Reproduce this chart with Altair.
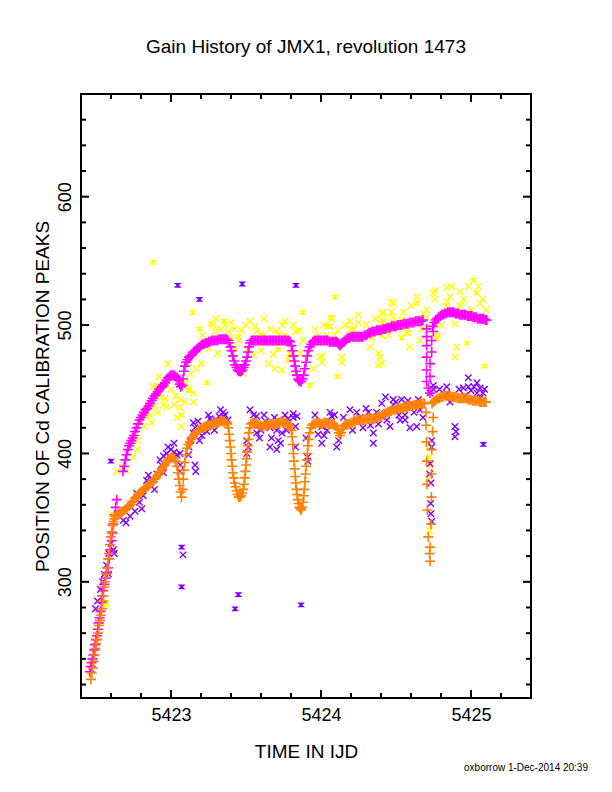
import altair as alt
import pandas as pd

FONT = "Liberation Sans"
TITLE = "Gain History of JMX1, revolution 1473"
X_TITLE = "TIME IN IJD"
Y_TITLE = "POSITION OF Cd CALIBRATION PEAKS"
FOOTER = "oxborrow 1-Dec-2014 20:39"

X_DOMAIN = [5422.4, 5425.4]
Y_DOMAIN = [209.5, 680]
X_LABELS = [5423, 5424, 5425]
Y_LABELS = [300, 400, 500, 600]
X_MINOR = [5422.6, 5422.8, 5423.2, 5423.4, 5423.6, 5423.8,
           5424.2, 5424.4, 5424.6, 5424.8, 5425.2]
Y_MINOR = [220, 240, 260, 280, 320, 340, 360, 380, 420, 440, 460, 480,
           520, 540, 560, 580, 620, 640, 660]

MAGENTA = "#ff00ff"
ORANGE = "#ff8000"
PURPLE = "#8000ff"
YELLOW = "#ffff00"

# lower peak (orange +)
ORANGE_PTS = [
    (5422.466, 224), (5422.472, 229), (5422.478, 233), (5422.484, 238), (5422.490, 243),
    (5422.496, 248), (5422.502, 252), (5422.508, 255), (5422.514, 260), (5422.520, 266),
    (5422.526, 270), (5422.532, 274), (5422.538, 279), (5422.544, 285), (5422.550, 289),
    (5422.556, 296), (5422.562, 300), (5422.568, 306), (5422.574, 311), (5422.580, 318),
    (5422.586, 322), (5422.592, 329), (5422.598, 335), (5422.604, 339), (5422.610, 344),
    (5422.616, 347), (5422.623, 349), (5422.630, 351),
    (5422.640, 352), (5422.650, 353), (5422.660, 353), (5422.670, 354), (5422.680, 355),
    (5422.690, 356), (5422.700, 357), (5422.710, 358), (5422.720, 359), (5422.730, 360),
    (5422.740, 362), (5422.750, 363), (5422.760, 365), (5422.770, 366), (5422.780, 368),
    (5422.790, 369), (5422.800, 370), (5422.810, 371), (5422.820, 372), (5422.830, 373),
    (5422.840, 374), (5422.850, 375), (5422.860, 376), (5422.870, 377), (5422.880, 378),
    (5422.890, 380), (5422.900, 381), (5422.910, 383), (5422.920, 385), (5422.930, 386),
    (5422.940, 388), (5422.950, 390), (5422.960, 391), (5422.970, 393), (5422.980, 395),
    (5422.990, 396), (5423.000, 397), (5423.010, 397), (5423.020, 396), (5423.030, 394),
    (5423.040, 390), (5423.046, 385), (5423.052, 380), (5423.058, 375), (5423.064, 370),
    (5423.070, 366), (5423.078, 372), (5423.082, 380), (5423.086, 387), (5423.092, 393),
    (5423.098, 399),
    (5423.105, 404), (5423.115, 407), (5423.125, 409), (5423.135, 411), (5423.145, 413),
    (5423.155, 415), (5423.165, 416), (5423.175, 417), (5423.185, 418), (5423.195, 419),
    (5423.205, 420), (5423.215, 420), (5423.225, 421), (5423.235, 421), (5423.245, 422),
    (5423.255, 422), (5423.265, 422), (5423.275, 423), (5423.285, 423), (5423.295, 424),
    (5423.305, 424), (5423.315, 424), (5423.325, 425), (5423.335, 425), (5423.345, 425),
    (5423.355, 425), (5423.365, 424), (5423.375, 423),
    (5423.383, 420), (5423.388, 415), (5423.392, 410), (5423.396, 405), (5423.400, 400),
    (5423.404, 395), (5423.408, 390), (5423.413, 385), (5423.418, 381), (5423.423, 377),
    (5423.430, 374), (5423.437, 371), (5423.444, 368), (5423.452, 366), (5423.460, 366),
    (5423.467, 367), (5423.474, 369), (5423.481, 372), (5423.487, 376), (5423.492, 381),
    (5423.496, 386), (5423.500, 391), (5423.504, 396), (5423.508, 401), (5423.512, 406),
    (5423.516, 411), (5423.520, 416), (5423.526, 420), (5423.533, 423),
    (5423.545, 424), (5423.555, 424), (5423.565, 423), (5423.575, 423), (5423.585, 422),
    (5423.595, 422), (5423.605, 421), (5423.615, 421), (5423.625, 422), (5423.635, 422),
    (5423.645, 422), (5423.655, 423), (5423.665, 423), (5423.675, 423), (5423.685, 422),
    (5423.695, 423), (5423.705, 423), (5423.715, 424), (5423.725, 424), (5423.735, 425),
    (5423.745, 424), (5423.755, 424), (5423.765, 424), (5423.775, 423), (5423.785, 422),
    (5423.795, 421),
    (5423.803, 418), (5423.808, 413), (5423.812, 407), (5423.816, 400), (5423.820, 394),
    (5423.824, 388), (5423.828, 382), (5423.832, 377), (5423.836, 372), (5423.840, 368),
    (5423.845, 364), (5423.850, 361), (5423.856, 358), (5423.862, 357), (5423.868, 356),
    (5423.874, 358), (5423.880, 362), (5423.885, 367), (5423.889, 372), (5423.893, 378),
    (5423.897, 384), (5423.901, 390), (5423.905, 395), (5423.909, 400), (5423.913, 406),
    (5423.918, 411), (5423.924, 416), (5423.932, 420), (5423.940, 422),
    (5423.950, 423), (5423.960, 423), (5423.970, 424), (5423.980, 424), (5423.990, 424),
    (5424.000, 423), (5424.010, 423), (5424.020, 424), (5424.030, 424), (5424.040, 424),
    (5424.050, 423), (5424.060, 423), (5424.070, 423), (5424.080, 423), (5424.090, 422),
    (5424.100, 421), (5424.110, 419), (5424.118, 416), (5424.126, 414), (5424.134, 416),
    (5424.142, 419), (5424.150, 421), (5424.160, 422), (5424.170, 423), (5424.180, 423),
    (5424.190, 423), (5424.200, 424), (5424.210, 424), (5424.220, 425), (5424.230, 425),
    (5424.240, 426), (5424.250, 426), (5424.260, 426), (5424.270, 426), (5424.280, 426),
    (5424.290, 426), (5424.300, 427), (5424.310, 427), (5424.320, 427), (5424.330, 427),
    (5424.340, 427), (5424.350, 427), (5424.360, 427), (5424.370, 428), (5424.380, 428),
    (5424.390, 429), (5424.400, 429), (5424.410, 430), (5424.420, 431), (5424.430, 431),
    (5424.440, 432), (5424.450, 432), (5424.460, 433), (5424.470, 433), (5424.480, 434),
    (5424.490, 434), (5424.500, 434), (5424.510, 435), (5424.520, 435), (5424.530, 435),
    (5424.540, 435), (5424.550, 436), (5424.560, 436), (5424.570, 436), (5424.580, 437),
    (5424.590, 437), (5424.600, 437), (5424.610, 437), (5424.620, 438), (5424.630, 438),
    (5424.640, 438), (5424.650, 438), (5424.660, 439), (5424.670, 439), (5424.680, 439),
    (5424.690, 439),
    (5424.700, 432), (5424.748, 428), (5424.700, 422), (5424.744, 417), (5424.703, 409),
    (5424.738, 403), (5424.704, 394), (5424.736, 384), (5424.706, 376), (5424.736, 366),
    (5424.709, 356), (5424.733, 345), (5424.715, 335), (5424.727, 327), (5424.724, 322),
    (5424.727, 316),
    (5424.740, 439), (5424.750, 440), (5424.760, 441), (5424.770, 442), (5424.780, 443),
    (5424.790, 443), (5424.800, 444), (5424.810, 444), (5424.820, 445), (5424.830, 445),
    (5424.840, 445), (5424.850, 445), (5424.860, 445), (5424.870, 444), (5424.880, 444),
    (5424.890, 444), (5424.900, 444), (5424.910, 443), (5424.920, 443), (5424.930, 443),
    (5424.940, 443), (5424.950, 443), (5424.960, 443), (5424.970, 443), (5424.980, 442),
    (5424.990, 442), (5425.000, 442), (5425.010, 441), (5425.020, 441), (5425.030, 441),
    (5425.040, 441), (5425.050, 441), (5425.060, 440), (5425.070, 440), (5425.080, 440),
    (5425.090, 440), (5425.100, 440),
]

# upper peak (magenta +)
MAGENTA_PTS = [
    (5422.458, 230), (5422.464, 234), (5422.470, 237), (5422.476, 240), (5422.482, 243),
    (5422.488, 247), (5422.494, 251), (5422.500, 255), (5422.506, 258), (5422.512, 263),
    (5422.518, 268), (5422.524, 272), (5422.530, 277), (5422.536, 284), (5422.542, 289),
    (5422.548, 293), (5422.556, 298), (5422.564, 303), (5422.572, 307), (5422.580, 311),
    (5422.588, 318), (5422.596, 325), (5422.604, 332), (5422.610, 338), (5422.616, 345),
    (5422.624, 352), (5422.631, 358), (5422.638, 364),
    (5422.680, 386), (5422.688, 390), (5422.696, 395), (5422.704, 399), (5422.712, 403),
    (5422.720, 406), (5422.728, 408), (5422.736, 410), (5422.744, 412), (5422.752, 414),
    (5422.760, 417), (5422.770, 420), (5422.780, 423), (5422.790, 426), (5422.800, 428),
    (5422.810, 430), (5422.820, 432), (5422.830, 434), (5422.840, 435), (5422.850, 437),
    (5422.860, 439), (5422.870, 441), (5422.880, 443), (5422.890, 445), (5422.900, 446),
    (5422.910, 448), (5422.920, 450), (5422.930, 451), (5422.940, 452), (5422.950, 453),
    (5422.960, 455), (5422.970, 457), (5422.980, 459), (5422.990, 460), (5423.000, 461),
    (5423.010, 461), (5423.020, 461), (5423.030, 460), (5423.040, 459), (5423.050, 457),
    (5423.058, 454), (5423.066, 452), (5423.074, 453), (5423.080, 458), (5423.086, 464),
    (5423.092, 468), (5423.100, 471), (5423.110, 473), (5423.120, 475), (5423.130, 476),
    (5423.140, 477), (5423.150, 479), (5423.160, 480), (5423.170, 481), (5423.180, 482),
    (5423.190, 483), (5423.200, 484), (5423.210, 485), (5423.220, 485), (5423.230, 486),
    (5423.240, 486), (5423.250, 487), (5423.260, 487), (5423.270, 488), (5423.280, 488),
    (5423.290, 488), (5423.300, 488), (5423.310, 488), (5423.320, 489), (5423.330, 489),
    (5423.340, 489), (5423.350, 489), (5423.360, 489), (5423.370, 489), (5423.380, 488),
    (5423.388, 486), (5423.396, 483), (5423.404, 480), (5423.412, 476), (5423.420, 472),
    (5423.428, 469), (5423.436, 467), (5423.444, 465), (5423.452, 464), (5423.460, 464),
    (5423.468, 464), (5423.476, 465), (5423.484, 467), (5423.492, 469), (5423.500, 472),
    (5423.507, 475), (5423.514, 479), (5423.520, 483), (5423.527, 486), (5423.535, 488),
    (5423.545, 488), (5423.555, 488), (5423.565, 488), (5423.575, 488), (5423.585, 488),
    (5423.595, 488), (5423.605, 488), (5423.615, 488), (5423.625, 488), (5423.635, 488),
    (5423.645, 488), (5423.655, 488), (5423.665, 488), (5423.675, 488), (5423.685, 488),
    (5423.695, 488), (5423.705, 488), (5423.715, 488), (5423.725, 488), (5423.735, 488),
    (5423.745, 488), (5423.755, 488), (5423.765, 488), (5423.775, 488), (5423.785, 488),
    (5423.795, 487), (5423.803, 484), (5423.810, 480), (5423.816, 476), (5423.822, 472),
    (5423.828, 468), (5423.834, 464), (5423.840, 461), (5423.846, 458), (5423.852, 457),
    (5423.860, 456), (5423.868, 456), (5423.876, 458), (5423.884, 461), (5423.892, 466),
    (5423.900, 471), (5423.908, 476), (5423.916, 480), (5423.925, 483), (5423.935, 485),
    (5423.945, 487), (5423.955, 488), (5423.965, 488), (5423.975, 488), (5423.985, 488),
    (5423.995, 488), (5424.005, 488), (5424.015, 488), (5424.025, 488), (5424.035, 488),
    (5424.045, 488), (5424.055, 487), (5424.065, 487), (5424.075, 487), (5424.085, 487),
    (5424.095, 487), (5424.105, 487), (5424.113, 486), (5424.120, 485), (5424.127, 484),
    (5424.134, 485), (5424.142, 486), (5424.150, 487), (5424.160, 488), (5424.170, 489),
    (5424.180, 490), (5424.190, 490), (5424.200, 491), (5424.210, 491), (5424.220, 491),
    (5424.230, 491), (5424.240, 491), (5424.250, 491), (5424.260, 491), (5424.270, 491),
    (5424.280, 491), (5424.290, 492), (5424.300, 492), (5424.310, 493), (5424.320, 494),
    (5424.330, 494), (5424.340, 495), (5424.350, 495), (5424.360, 495), (5424.370, 496),
    (5424.380, 496), (5424.390, 496), (5424.400, 496), (5424.410, 497), (5424.420, 497),
    (5424.430, 497), (5424.440, 498), (5424.450, 498), (5424.460, 498), (5424.470, 499),
    (5424.480, 499), (5424.490, 499), (5424.500, 499), (5424.510, 500), (5424.520, 500),
    (5424.530, 500), (5424.540, 500), (5424.550, 501), (5424.560, 501), (5424.570, 501),
    (5424.580, 501), (5424.590, 502), (5424.600, 502), (5424.610, 502), (5424.620, 502),
    (5424.630, 503), (5424.640, 503), (5424.650, 503), (5424.660, 503), (5424.670, 503),
    (5424.680, 504),
    (5424.704, 497), (5424.749, 495), (5424.704, 491), (5424.738, 488), (5424.704, 484),
    (5424.738, 479), (5424.704, 475), (5424.727, 470), (5424.704, 465), (5424.727, 460),
    (5424.704, 456), (5424.716, 451), (5424.727, 447),
    (5424.745, 499), (5424.755, 502), (5424.765, 504), (5424.775, 505), (5424.785, 506),
    (5424.795, 507), (5424.805, 508), (5424.815, 508), (5424.825, 509), (5424.835, 509),
    (5424.845, 510), (5424.855, 510), (5424.865, 510), (5424.875, 510), (5424.885, 510),
    (5424.895, 509), (5424.905, 509), (5424.915, 509), (5424.925, 508), (5424.935, 508),
    (5424.945, 508), (5424.955, 508), (5424.965, 508), (5424.975, 507), (5424.985, 507),
    (5424.995, 507), (5425.005, 507), (5425.015, 506), (5425.025, 506), (5425.035, 506),
    (5425.045, 505), (5425.055, 505), (5425.065, 505), (5425.075, 505), (5425.085, 505),
    (5425.095, 504), (5425.105, 504),
]

# single-event lower peak (purple x)
PURPLE_PTS = [
    (5422.497, 279), (5422.510, 285), (5422.530, 294), (5422.545, 300), (5422.556, 306),
    (5422.570, 313), (5422.582, 306), (5422.585, 322), (5422.600, 330), (5422.616, 325),
    (5422.622, 322), (5422.682, 348), (5422.700, 346), (5422.727, 351), (5422.760, 355),
    (5422.790, 362), (5422.805, 357), (5422.815, 367), (5422.771, 369), (5422.838, 379),
    (5422.850, 383), (5422.860, 376), (5422.870, 380), (5422.890, 372), (5422.905, 384),
    (5422.927, 395), (5422.935, 391), (5422.950, 398), (5422.950, 385), (5422.971, 400),
    (5422.980, 405), (5423.000, 403), (5423.020, 401), (5423.020, 408), (5423.040, 399),
    (5423.060, 400), (5423.062, 391), (5423.060, 386), (5423.116, 399), (5423.120, 405),
    (5423.130, 410), (5423.149, 416), (5423.149, 424), (5423.160, 420), (5423.160, 391),
    (5423.165, 386), (5423.180, 425), (5423.190, 410), (5423.205, 414), (5423.220, 420),
    (5423.240, 417), (5423.250, 430), (5423.260, 427), (5423.271, 425), (5423.290, 418),
    (5423.300, 426), (5423.320, 429), (5423.330, 434), (5423.349, 432), (5423.349, 429),
    (5423.360, 430), (5423.380, 426), (5423.505, 410), (5423.505, 400), (5423.515, 405),
    (5423.527, 434), (5423.550, 430), (5423.571, 429), (5423.571, 416), (5423.580, 422),
    (5423.590, 412), (5423.600, 418), (5423.620, 430), (5423.630, 425), (5423.660, 420),
    (5423.660, 405), (5423.670, 412), (5423.690, 428), (5423.705, 418), (5423.705, 403),
    (5423.715, 410), (5423.730, 408), (5423.740, 416), (5423.760, 430), (5423.770, 418),
    (5423.780, 427), (5423.815, 431), (5423.815, 428), (5423.840, 429), (5423.830, 421),
    (5423.830, 405), (5423.900, 412), (5423.910, 397), (5423.912, 394), (5423.960, 430),
    (5423.980, 415), (5424.005, 421), (5424.005, 408), (5424.020, 414), (5424.040, 418),
    (5424.060, 432), (5424.071, 429), (5424.090, 430), (5424.105, 405), (5424.117, 410),
    (5424.150, 428), (5424.193, 434), (5424.210, 418), (5424.238, 432), (5424.238, 426),
    (5424.260, 428), (5424.280, 420), (5424.300, 435), (5424.316, 432), (5424.330, 422),
    (5424.349, 416), (5424.349, 408), (5424.370, 432), (5424.383, 423), (5424.405, 439),
    (5424.405, 429), (5424.430, 444), (5424.440, 426), (5424.460, 421), (5424.482, 442),
    (5424.482, 438), (5424.500, 440), (5424.520, 430), (5424.527, 426), (5424.538, 442),
    (5424.560, 430), (5424.560, 426), (5424.580, 441), (5424.593, 420), (5424.620, 432),
    (5424.638, 421), (5424.649, 442), (5424.660, 434), (5424.680, 428), (5424.727, 447),
    (5424.738, 410), (5424.738, 405), (5424.727, 392), (5424.725, 384), (5424.733, 377),
    (5424.731, 361), (5424.733, 353), (5424.738, 347), (5424.749, 453), (5424.749, 450),
    (5424.790, 450), (5424.838, 452), (5424.838, 447), (5424.860, 440), (5424.893, 421),
    (5424.893, 413), (5424.900, 417), (5424.920, 450), (5424.949, 451), (5424.960, 445),
    (5424.982, 459), (5424.982, 452), (5425.000, 449), (5425.020, 452), (5425.040, 455),
    (5425.040, 447), (5425.060, 451), (5425.060, 443), (5425.080, 447), (5425.090, 450),
    (5423.080, 321),
]
PURPLE_OUT = [
    (5422.600, 394), (5423.045, 531), (5423.189, 520), (5423.475, 532), (5423.833, 531),
    (5423.071, 327), (5423.071, 296), (5423.449, 290), (5423.427, 279), (5423.867, 282),
    (5425.082, 407),
]

# single-event upper peak (yellow x)
YELLOW_PTS = [
    (5422.560, 281), (5422.570, 283), (5422.604, 353), (5422.638, 386), (5422.680, 390),
    (5422.700, 387), (5422.747, 397), (5422.775, 403), (5422.780, 410), (5422.770, 416),
    (5422.800, 425), (5422.822, 421), (5422.833, 429), (5422.860, 430), (5422.870, 424),
    (5422.880, 452), (5422.890, 437), (5422.910, 432), (5422.920, 460), (5422.930, 444),
    (5422.950, 438), (5422.960, 443), (5422.970, 436), (5422.980, 470), (5423.000, 450),
    (5423.020, 438), (5423.030, 445), (5423.040, 428), (5423.060, 442), (5423.060, 436),
    (5423.070, 430), (5423.070, 421), (5423.090, 440), (5423.100, 455), (5423.120, 470),
    (5423.120, 450), (5423.130, 462), (5423.150, 447), (5423.150, 440), (5423.170, 466),
    (5423.180, 480), (5423.200, 470), (5423.210, 492), (5423.250, 482), (5423.280, 500),
    (5423.293, 495), (5423.300, 505), (5423.310, 478), (5423.330, 497), (5423.360, 500),
    (5423.382, 495), (5423.400, 490), (5423.400, 502), (5423.420, 497), (5423.450, 488),
    (5423.470, 496), (5423.482, 462), (5423.500, 500), (5423.505, 481), (5423.527, 503),
    (5423.550, 477), (5423.560, 499), (5423.571, 495), (5423.600, 480), (5423.600, 493),
    (5423.620, 505), (5423.650, 470), (5423.660, 497), (5423.682, 477), (5423.693, 466),
    (5423.700, 495), (5423.720, 493), (5423.738, 465), (5423.740, 500), (5423.760, 503),
    (5423.780, 489), (5423.790, 478), (5423.815, 500), (5423.830, 495), (5423.855, 496),
    (5423.860, 478), (5423.880, 488), (5423.949, 466), (5423.960, 497), (5423.982, 492),
    (5423.993, 475), (5424.005, 476), (5424.005, 471), (5424.020, 500), (5424.038, 492),
    (5424.060, 499), (5424.071, 505), (5424.090, 492), (5424.115, 496), (5424.138, 475),
    (5424.138, 471), (5424.160, 500), (5424.190, 492), (5424.193, 503), (5424.200, 497),
    (5424.220, 497), (5424.249, 508), (5424.249, 502), (5424.271, 492), (5424.300, 500),
    (5424.327, 483), (5424.338, 490), (5424.360, 505), (5424.382, 478), (5424.382, 469),
    (5424.393, 475), (5424.405, 470), (5424.405, 509), (5424.405, 504), (5424.405, 492),
    (5424.416, 510), (5424.416, 503), (5424.450, 492), (5424.471, 518), (5424.471, 510),
    (5424.471, 502), (5424.482, 517), (5424.482, 506), (5424.515, 497), (5424.538, 504),
    (5424.550, 510), (5424.571, 494), (5424.582, 494), (5424.593, 483), (5424.600, 515),
    (5424.640, 522), (5424.660, 488), (5424.670, 497), (5424.682, 509), (5424.704, 512),
    (5424.704, 506), (5424.749, 525), (5424.760, 527), (5424.760, 520), (5424.771, 490),
    (5424.800, 500), (5424.827, 510), (5424.838, 529), (5424.838, 518), (5424.838, 515),
    (5424.860, 522), (5424.870, 530), (5424.893, 501), (5424.893, 475), (5424.904, 483),
    (5424.927, 526), (5424.927, 515), (5424.950, 520), (5424.982, 530), (5425.000, 512),
    (5425.050, 530), (5425.060, 517), (5425.080, 520), (5425.100, 512), (5424.722, 397),
    (5424.715, 405), (5424.730, 390), (5424.715, 380), (5424.725, 340),
]
YELLOW_OUT = [
    (5422.882, 549), (5423.145, 510), (5423.189, 497), (5423.265, 501), (5423.353, 503),
    (5423.449, 491), (5423.615, 492), (5423.760, 492), (5423.878, 510), (5424.067, 506),
    (5424.093, 522), (5424.045, 499), (5423.238, 455), (5423.116, 449), (5422.905, 453),
    (5423.782, 473), (5423.927, 453), (5424.109, 460), (5423.427, 482), (5423.831, 462),
    (5423.715, 481), (5425.015, 535), (5425.037, 525), (5424.638, 517), (5425.090, 468),
    (5424.973, 486), (5424.775, 492), (5424.538, 490), (5424.827, 510),
]

W, H = 450, 604
PLUS = "M-1,0L1,0M0,-1L0,1"
CROSS = "M-1,-1L1,1M-1,1L1,-1"
BOWTIE = "M-1,-0.6L1,-0.6L0.3,0L1,0.6L-1,0.6L-0.3,0Z"

x_axis = alt.Axis(
    values=X_LABELS, format="d", title=X_TITLE, ticks=False, tickSize=0, domain=False,
    grid=False, labelFont=FONT, labelFontSize=18, labelColor="black", labelPadding=8,
    titleFont=FONT, titleFontSize=19, titleFontWeight="normal", titleColor="black",
    titleX=W / 2, titleY=53, titleAlign="center", titleBaseline="middle",
)
y_axis = alt.Axis(
    values=Y_LABELS, format="d", title=Y_TITLE, ticks=False, tickSize=0, domain=False,
    grid=False, labelFont=FONT, labelFontSize=18, labelColor="black", labelAngle=270,
    labelAlign="center", labelBaseline="alphabetic", labelPadding=11,
    titleFont=FONT, titleFontSize=19, titleFontWeight="normal", titleColor="black",
    titleAngle=270, titleX=-39, titleY=H / 2, titleAlign="center", titleBaseline="middle",
)
X = alt.X("t:Q", scale=alt.Scale(domain=X_DOMAIN, nice=False, zero=False), axis=x_axis)
Y = alt.Y("pos:Q", scale=alt.Scale(domain=Y_DOMAIN, nice=False, zero=False), axis=y_axis)


def scatter(points, color, shape, size, width, filled=False):
    df = pd.DataFrame(points, columns=["t", "pos"])
    return alt.Chart(df).mark_point(
        shape=shape, size=size, filled=filled, color=color, strokeWidth=width, opacity=1
    ).encode(x=X, y=Y)


def xticks(values, length):
    df = pd.DataFrame({"t": values})
    bottom = alt.Chart(df).mark_rule(color="black", strokeWidth=2).encode(
        x=X, y=alt.value(H), y2=alt.value(H - length))
    top = alt.Chart(df).mark_rule(color="black", strokeWidth=2).encode(
        x=X, y=alt.value(0), y2=alt.value(length))
    return [bottom, top]


def yticks(values, length):
    df = pd.DataFrame({"pos": values})
    left = alt.Chart(df).mark_rule(color="black", strokeWidth=2).encode(
        y=Y, x=alt.value(0), x2=alt.value(length))
    right = alt.Chart(df).mark_rule(color="black", strokeWidth=2).encode(
        y=Y, x=alt.value(W), x2=alt.value(W - length))
    return [left, right]


footer = alt.Chart(pd.DataFrame({"label": [FOOTER]})).mark_text(
    align="right", baseline="middle", font=FONT, fontSize=10, color="black"
).encode(x=alt.value(507), y=alt.value(674), text="label:N")

layers = [
    scatter(YELLOW_PTS, YELLOW, CROSS, 42, 1.4),
    scatter(YELLOW_OUT, YELLOW, BOWTIE, 64, 1, filled=True),
    scatter(PURPLE_PTS, PURPLE, CROSS, 42, 1.4),
    scatter(PURPLE_OUT, PURPLE, BOWTIE, 64, 1, filled=True),
    scatter(MAGENTA_PTS, MAGENTA, PLUS, 100, 1.6),
    scatter(ORANGE_PTS, ORANGE, PLUS, 100, 1.6),
]
layers += xticks(X_LABELS, 8) + xticks(X_MINOR, 5)
layers += yticks(Y_LABELS, 8) + yticks(Y_MINOR, 5)
layers.append(footer)

chart = alt.layer(*layers).properties(
    width=W,
    height=H,
    title=alt.TitleParams(
        TITLE, font=FONT, fontSize=19, fontWeight="normal", color="black",
        anchor="middle", offset=36,
    ),
    autosize=alt.AutoSizeParams(type="none"),
    padding={"left": 73, "top": 86, "right": 73, "bottom": 86},
    background="white",
).configure_view(stroke="black", strokeWidth=2)

chart.save("out.html", embed_options={"renderer": "svg", "actions": False})
